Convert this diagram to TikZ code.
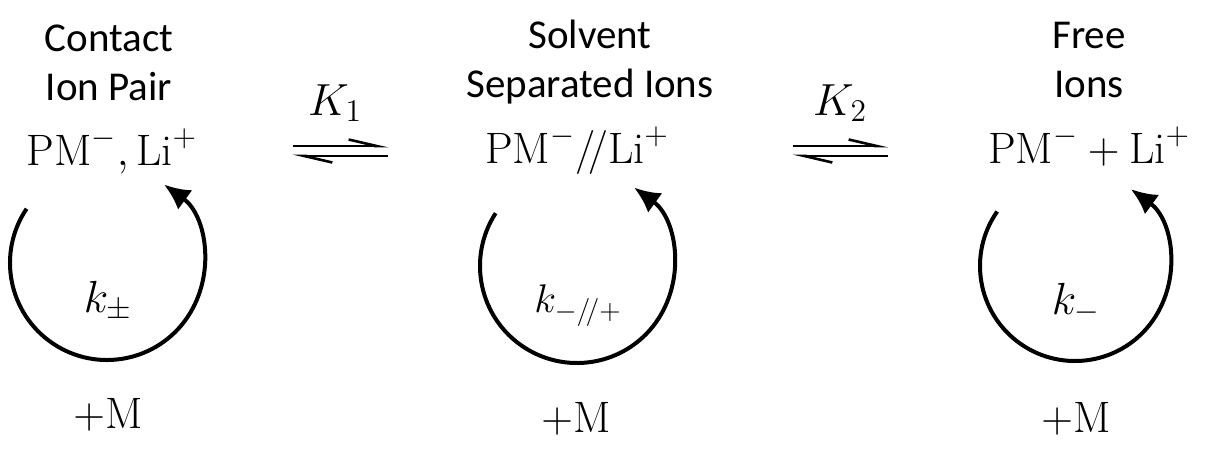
\RequirePackage{fix-cm}
\documentclass[tikz,border=0pt]{standalone}
\usepackage{fontspec}
\newfontfamily\labelfont{Carlito}
\usetikzlibrary{arrows.meta}

\begin{document}
\begin{tikzpicture}[x=0.5pt, y=-0.5pt,
  title/.style={font=\labelfont\fontsize{20.5}{24.5}\selectfont, align=center, anchor=base, inner sep=0pt},
  species/.style={font=\fontsize{22}{26}\selectfont, anchor=base, inner sep=0pt},
  rate/.style={font=\fontsize{22.5}{26}\selectfont, anchor=base, inner sep=0pt},
  rxn/.style={line width=2pt, -{Latex[length=13pt, width=12pt]}},
  harp/.style={line width=1.3pt, -{Straight Barb[left, length=14pt, width=6.5pt]}}]
  \useasboundingbox (0,0) rectangle (1208,456);
  % species
  \node[title] (t1) at (109,100) {Contact\\Ion Pair};
  \node[title] (t2) at (590,97) {Solvent\\Separated Ions};
  \node[title] (t3) at (1089,97) {Free\\Ions};
  \node[species] (s1) at (112,165) {$\mathrm{PM}^{-}, \mathrm{Li}^{+}$};
  \node[species] (s2) at (577,163) {$\mathrm{PM}^{-}/\!/\mathrm{Li}^{+}$};
  \node[species] (s3) at (1089,163) {$\mathrm{PM}^{-} + \mathrm{Li}^{+}$};
  % equilibria
  \coordinate (e1w) at (293,146); \coordinate (e1e) at (388,146);
  \coordinate (f1w) at (293,156); \coordinate (f1e) at (388,156);
  \coordinate (e2w) at (793,146); \coordinate (e2e) at (888,146);
  \coordinate (f2w) at (793,156); \coordinate (f2e) at (888,156);
  \draw[harp] (e1w) -- (e1e);
  \draw[harp] (f1e) -- (f1w);
  \draw[harp] (e2w) -- (e2e);
  \draw[harp] (f2e) -- (f2w);
  \node[rate] (K1) at (335,115) {$K_1$};
  \node[rate] (K2) at (840,115) {$K_2$};
  % propagation cycles
  \coordinate (c1) at (107,263);
  \coordinate (c2) at (577,266);
  \coordinate (c3) at (1075,266);
  \draw[rxn] ([shift={(146:48.5pt)}]c1) arc[start angle=146, end angle=414, radius=48.5pt];
  \draw[rxn] ([shift={(147:48.5pt)}]c2) arc[start angle=147, end angle=414, radius=48.5pt];
  \draw[rxn] ([shift={(145:47.5pt)}]c3) arc[start angle=145, end angle=414, radius=47.5pt];
  \node[rate] (k1) at (108,312) {$k_{\pm}$};
  \node[rate, font=\fontsize{20}{24}\selectfont] (k2) at (578,312) {$k_{-/\!/+}$};
  \node[rate] (k3) at (1076,314) {$k_{-}$};
  \node[species] (m1) at (108,428) {$+\mathrm{M}$};
  \node[species] (m2) at (576,432) {$+\mathrm{M}$};
  \node[species] (m3) at (1076,432) {$+\mathrm{M}$};
\end{tikzpicture}
\end{document}
